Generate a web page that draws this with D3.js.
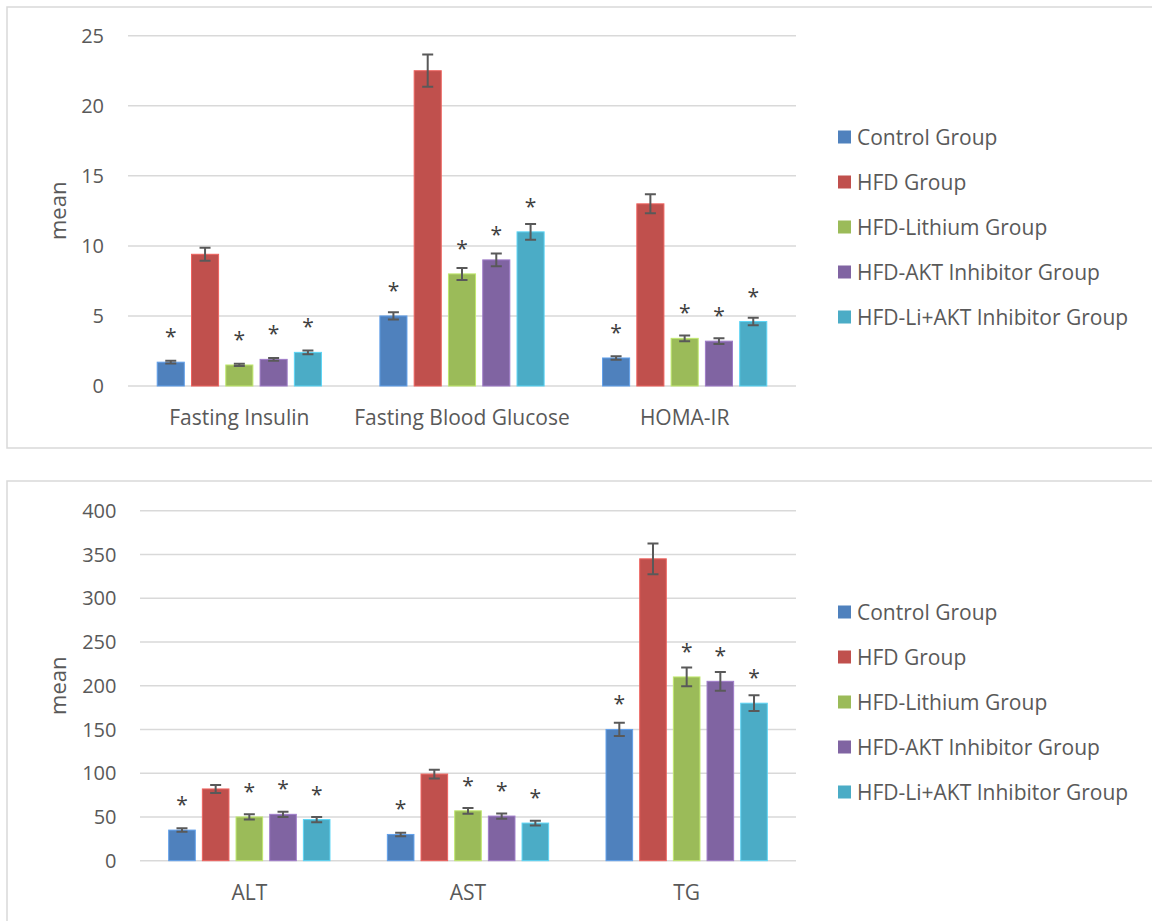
<!DOCTYPE html>
<html>
<head>
<meta charset="utf-8">
<script src="https://cdn.jsdelivr.net/npm/d3@7"></script>
<style>
  html, body { margin: 0; padding: 0; background: #fff; }
  svg { display: block; font-family: "Open Sans", "Segoe UI", sans-serif; }
</style>
</head>
<body>
<svg id="chart" width="1152" height="921"></svg>
<script>
// Groups (series) shared by both panels
const groups = ["Control Group", "HFD Group", "HFD-Lithium Group", "HFD-AKT Inhibitor Group", "HFD-Li+AKT Inhibitor Group"];
const groupColors = ["#4F81BD", "#C0504D", "#9BBB59", "#8064A2", "#4BACC6"];
// Groups that differ significantly from HFD get an asterisk
const significant = [true, false, true, true, true];

// Panel 1: insulin / glucose / HOMA-IR
const metabolicCategories = ["Fasting Insulin", "Fasting Blood Glucose", "HOMA-IR"];
const metabolicMeans = [
  [1.7, 9.4, 1.5, 1.9, 2.4],
  [5.0, 22.5, 8.0, 9.0, 11.0],
  [2.0, 13.0, 3.4, 3.2, 4.6]
];
const metabolicErrors = [
  [0.1, 0.47, 0.08, 0.1, 0.13],
  [0.26, 1.15, 0.43, 0.46, 0.56],
  [0.12, 0.68, 0.2, 0.2, 0.27]
];
const metabolicTicks = [0, 5, 10, 15, 20, 25];

// Panel 2: liver enzymes / triglycerides
const liverCategories = ["ALT", "AST", "TG"];
const liverMeans = [
  [35, 82, 50, 53, 47],
  [30, 99, 57, 51, 43],
  [150, 345, 210, 205, 180]
];
const liverErrors = [
  [2, 4.6, 3, 3, 3],
  [2, 5, 3.2, 3, 2.7],
  [7.6, 17.5, 10.7, 10.7, 9]
];
const liverTicks = [0, 50, 100, 150, 200, 250, 300, 350, 400];

const svg = d3.select("#chart");
const textColor = "#595959";
const gridColor = "#D9D9D9";
const fontSize = 21;
const tickFontSize = 20;

function drawPanel(cfg) {
  const g = svg.append("g");

  // outer chart frame
  g.append("rect")
    .attr("x", cfg.frame.x).attr("y", cfg.frame.y)
    .attr("width", cfg.frame.w).attr("height", cfg.frame.h)
    .attr("fill", "#fff").attr("stroke", gridColor).attr("stroke-width", 1.5);

  const y = d3.scaleLinear()
    .domain([0, d3.max(cfg.ticks)])
    .range([cfg.plot.bottom, cfg.plot.top]);

  const x0 = d3.scaleBand()
    .domain(cfg.categories)
    .range([cfg.plot.left, cfg.plot.right]);

  const groupWidth = x0.bandwidth() * 0.77;
  const x1 = d3.scaleBand()
    .domain(groups)
    .range([-groupWidth / 2, groupWidth / 2])
    .paddingInner(0.21)
    .paddingOuter(0.105);

  // horizontal gridlines
  g.append("g").selectAll("line")
    .data(cfg.ticks)
    .join("line")
    .attr("x1", cfg.plot.left).attr("x2", cfg.plot.right)
    .attr("y1", d => y(d)).attr("y2", d => y(d))
    .attr("stroke", gridColor).attr("stroke-width", 1.5);

  // y tick labels
  g.append("g").selectAll("text")
    .data(cfg.ticks)
    .join("text")
    .attr("x", cfg.tickX)
    .attr("y", d => y(d))
    .attr("dy", "0.36em")
    .attr("text-anchor", "end")
    .attr("fill", textColor)
    .attr("font-size", tickFontSize)
    .text(d => d);

  // y axis title
  g.append("text")
    .attr("transform", `translate(${cfg.titleX},${(cfg.plot.top + cfg.plot.bottom) / 2}) rotate(-90)`)
    .attr("dy", "0.36em")
    .attr("text-anchor", "middle")
    .attr("fill", textColor)
    .attr("font-size", fontSize + 1)
    .text("mean");

  // category labels
  g.append("g").selectAll("text")
    .data(cfg.categories)
    .join("text")
    .attr("x", d => x0(d) + x0.bandwidth() / 2)
    .attr("y", cfg.catLabelY)
    .attr("dy", "0.36em")
    .attr("text-anchor", "middle")
    .attr("fill", textColor)
    .attr("font-size", fontSize)
    .text(d => d);

  // flatten data into bar records
  const bars = [];
  cfg.categories.forEach((cat, ci) => {
    groups.forEach((grp, gi) => {
      bars.push({
        cat, grp, gi,
        mean: cfg.means[ci][gi],
        err: cfg.errors[ci][gi],
        cx: x0(cat) + x0.bandwidth() / 2 + x1(grp) + x1.bandwidth() / 2
      });
    });
  });

  // bars
  g.append("g").selectAll("rect")
    .data(bars)
    .join("rect")
    .attr("x", d => d.cx - x1.bandwidth() / 2)
    .attr("y", d => y(d.mean))
    .attr("width", x1.bandwidth())
    .attr("height", d => y(0) - y(d.mean))
    .attr("fill", d => groupColors[d.gi])
    .attr("stroke", d => d3.color(groupColors[d.gi]).brighter(0.6))
    .attr("stroke-width", 1);

  // error bars
  const capHalf = 5.5;
  const eb = g.append("g")
    .attr("stroke", "#595959").attr("stroke-width", 2).attr("fill", "none");
  eb.selectAll("path")
    .data(bars)
    .join("path")
    .attr("d", d => {
      const t = y(d.mean + d.err), b = y(d.mean - d.err);
      return `M${d.cx},${t}V${b}M${d.cx - capHalf},${t}H${d.cx + capHalf}M${d.cx - capHalf},${b}H${d.cx + capHalf}`;
    });

  // significance markers
  g.append("g").selectAll("text")
    .data(bars.filter(d => significant[d.gi]))
    .join("text")
    .attr("x", d => d.cx)
    .attr("y", d => y(d.mean) - 30 + 12)
    .attr("text-anchor", "middle")
    .attr("fill", "#404040")
    .attr("font-size", fontSize)
    .text("*");

  // legend
  const legend = g.append("g");
  groups.forEach((grp, i) => {
    const ly = cfg.legend.y + i * cfg.legend.step;
    legend.append("rect")
      .attr("x", cfg.legend.x).attr("y", ly - 6.5)
      .attr("width", 13).attr("height", 13)
      .attr("fill", groupColors[i]);
    legend.append("text")
      .attr("x", cfg.legend.x + 19).attr("y", ly)
      .attr("dy", "0.36em")
      .attr("fill", textColor)
      .attr("font-size", fontSize)
      .text(grp);
  });
}

drawPanel({
  frame: { x: 7, y: 7, w: 1160, h: 441 },
  plot: { left: 128, right: 796, top: 35.7, bottom: 386 },
  ticks: metabolicTicks,
  tickX: 104,
  titleX: 58,
  catLabelY: 417,
  categories: metabolicCategories,
  means: metabolicMeans,
  errors: metabolicErrors,
  legend: { x: 838, y: 137, step: 45 }
});

drawPanel({
  frame: { x: 7, y: 481, w: 1160, h: 460 },
  plot: { left: 140, right: 796, top: 510.7, bottom: 860.7 },
  ticks: liverTicks,
  tickX: 116.5,
  titleX: 58,
  catLabelY: 892,
  categories: liverCategories,
  means: liverMeans,
  errors: liverErrors,
  legend: { x: 838, y: 612, step: 45 }
});
</script>
</body>
</html>
